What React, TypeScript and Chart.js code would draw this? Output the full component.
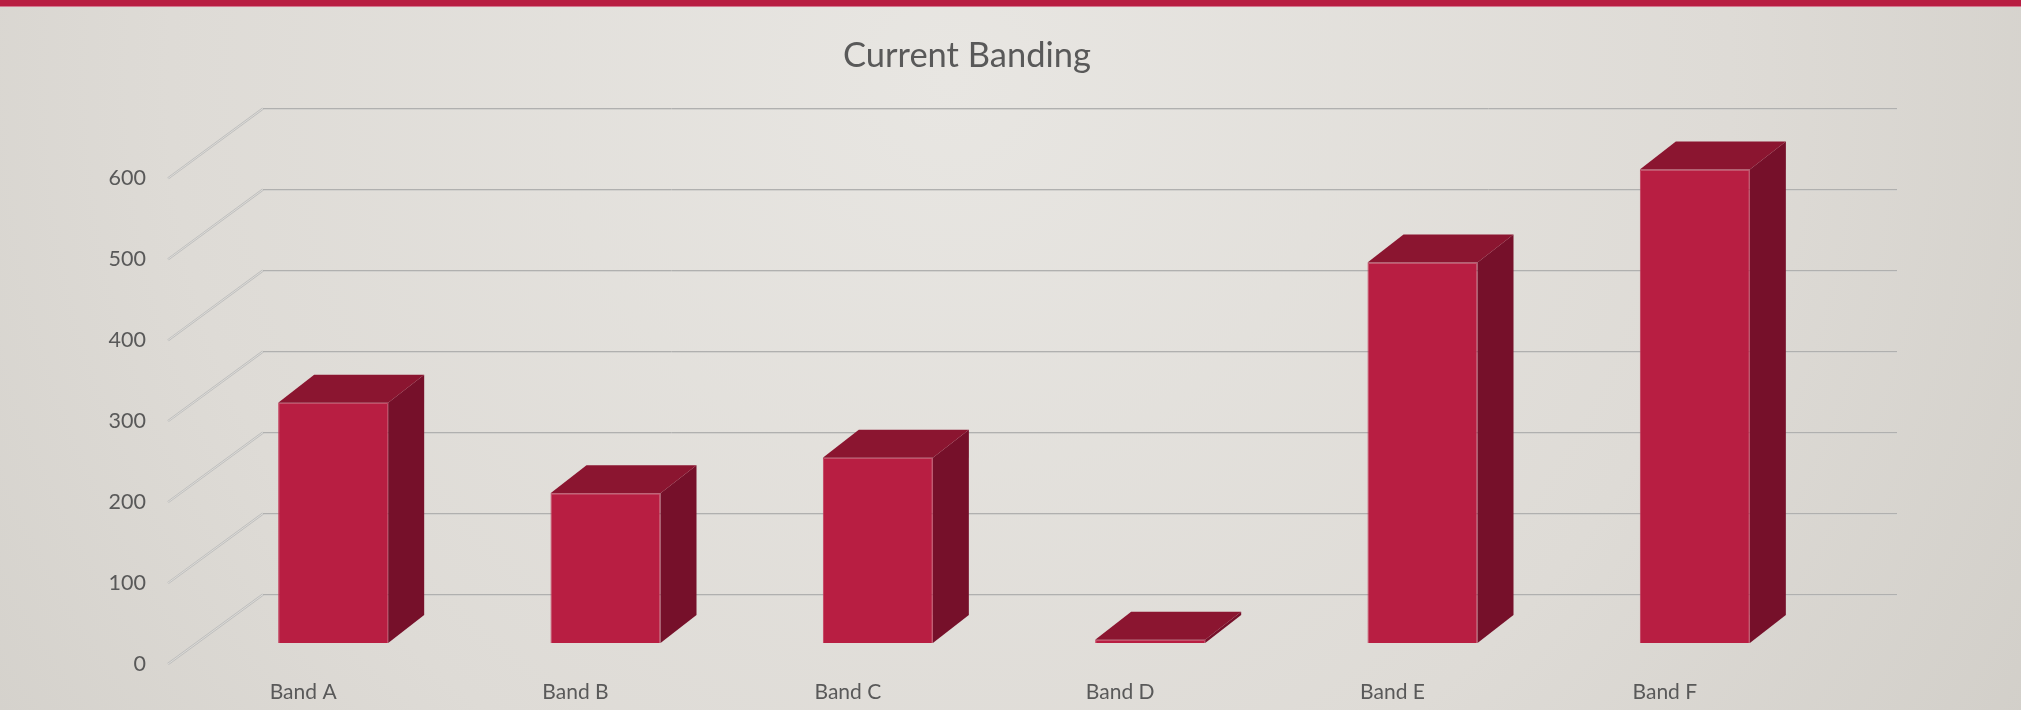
import React, { useEffect, useRef } from "react";
import { Chart, registerables } from "chart.js";

Chart.register(...registerables);

const categories = ["Band A", "Band B", "Band C", "Band D", "Band E", "Band F"];
const values = [297, 185, 229, 4, 470, 585];
const yTicks = [0, 100, 200, 300, 400, 500, 600];
const titleText = "Current Banding";

const FRONT = "#B81E42";
const TOP = "#8B1530";
const SIDE = "#76102A";
// depth geometry (pixels)
const BAR_DX = 36;
const BAR_DY = 28;
const BACK_DX = 66;
const BACK_DY = 49;
const FRONT_DX = -29;
const FRONT_DY = 21;

const bgPlugin = {
  id: "bg",
  beforeDraw(chart: any) {
    const { ctx, width, height } = chart;
    ctx.save();
    const g = ctx.createRadialGradient(950, 80, 0, 950, 80, 1300);
    g.addColorStop(0, "#E8E6E2");
    g.addColorStop(0.6, "#DEDBD6");
    g.addColorStop(1, "#D1CEC8");
    ctx.fillStyle = g;
    ctx.fillRect(0, 0, width, height);
    ctx.fillStyle = "#B81E42";
    ctx.fillRect(0, 0, width, 6);
    ctx.fillStyle = "#D47890";
    ctx.fillRect(0, 6, width, 1);
    ctx.restore();
  },
};

const depthPlugin = {
  id: "depth",
  beforeDatasetsDraw(chart: any) {
    const { ctx, chartArea, scales } = chart;
    const ys = scales.y;
    ctx.save();
    yTicks.forEach((v) => {
      const py = ys.getPixelForValue(v);
      // back wall grid line
      const by = Math.round(py - BACK_DY) + 0.5;
      ctx.strokeStyle = "#B0B0AF";
      ctx.lineWidth = 1;
      ctx.beginPath();
      ctx.moveTo(chartArea.left + BACK_DX, by);
      ctx.lineTo(chartArea.right + BACK_DX, by);
      ctx.stroke();
      ctx.strokeStyle = "#D2D1CE";
      ctx.lineWidth = 1;
      ctx.beginPath();
      ctx.moveTo(chartArea.left + BACK_DX, by + 1);
      ctx.lineTo(chartArea.right + BACK_DX, by + 1);
      ctx.stroke();
      // side wall diagonal
      ctx.strokeStyle = "#BDBDBC";
      ctx.lineWidth = 2.2;
      ctx.beginPath();
      ctx.moveTo(chartArea.left + FRONT_DX, py + FRONT_DY);
      ctx.lineTo(chartArea.left + BACK_DX, by);
      ctx.stroke();
      ctx.strokeStyle = "#E4E3E0";
      ctx.lineWidth = 0.8;
      ctx.beginPath();
      ctx.moveTo(chartArea.left + FRONT_DX, py + FRONT_DY);
      ctx.lineTo(chartArea.left + BACK_DX, by);
      ctx.stroke();
    });
    ctx.restore();
  },
  afterDatasetsDraw(chart: any) {
    const { ctx } = chart;
    const meta = chart.getDatasetMeta(0);
    ctx.save();
    meta.data.forEach((bar: any) => {
      const { x, y, base, width } = bar.getProps(["x", "y", "base", "width"], true);
      const l = x - width / 2;
      const r = x + width / 2;
      // side face
      ctx.fillStyle = SIDE;
      ctx.beginPath();
      ctx.moveTo(r, y);
      ctx.lineTo(r + BAR_DX, y - BAR_DY);
      ctx.lineTo(r + BAR_DX, base - BAR_DY);
      ctx.lineTo(r, base);
      ctx.closePath();
      ctx.fill();
      // top face
      ctx.fillStyle = TOP;
      ctx.beginPath();
      ctx.moveTo(l, y);
      ctx.lineTo(l + BAR_DX, y - BAR_DY);
      ctx.lineTo(r + BAR_DX, y - BAR_DY);
      ctx.lineTo(r, y);
      ctx.closePath();
      ctx.fill();
    });
    ctx.restore();
  },
};

export default function App() {
  const ref = useRef<HTMLCanvasElement | null>(null);
  useEffect(() => {
    if (!ref.current) return;
    const chart = new Chart(ref.current, {
      type: "bar",
      data: {
        labels: categories,
        datasets: [
          {
            data: values,
            backgroundColor: FRONT,
            borderColor: "#C23A5A",
            borderWidth: 1,
            barPercentage: 0.404,
            categoryPercentage: 1,
          },
        ],
      },
      options: {
        animation: false,
        responsive: false,
        maintainAspectRatio: false,
        layout: { padding: { left: 103, right: 190, top: 0, bottom: 0 } },
        plugins: {
          legend: { display: false },
          tooltip: { enabled: false },
          title: {
            display: true,
            text: titleText,
            color: "#595959",
            font: { family: "Lato", size: 34.5, weight: "normal", lineHeight: 1.2 },
            padding: { top: 35, bottom: 81 },
          },
        },
        scales: {
          x: {
            grid: { display: false, drawTicks: false },
            border: { display: false },
            ticks: {
              color: "#595959",
              font: { family: "Lato", size: 21, lineHeight: 1.2 },
              padding: 37,
              labelOffset: -30,
              maxRotation: 0,
              autoSkip: false,
            },
            afterFit: (s: any) => {
              s.height = 67;
            },
          },
          y: {
            min: 0,
            max: 600,
            grid: { display: false, drawTicks: false },
            border: { display: false },
            afterBuildTicks: (s: any) => {
              s.ticks = yTicks.map((v) => ({ value: v }));
            },
            ticks: {
              color: "#595959",
              font: { family: "Lato", size: 21.5, lineHeight: 1.2 },
              padding: 51,
              labelOffset: FRONT_DY,
            },
            afterFit: (s: any) => {
              s.width = 94;
            },
          },
        },
      },
      plugins: [bgPlugin, depthPlugin],
    });
    return () => chart.destroy();
  }, []);
  return (
    <div style={{ position: "fixed", left: 0, top: 0, width: 2021, height: 710 }}>
      <canvas ref={ref} width={2021} height={710} style={{ display: "block" }} />
    </div>
  );
}
